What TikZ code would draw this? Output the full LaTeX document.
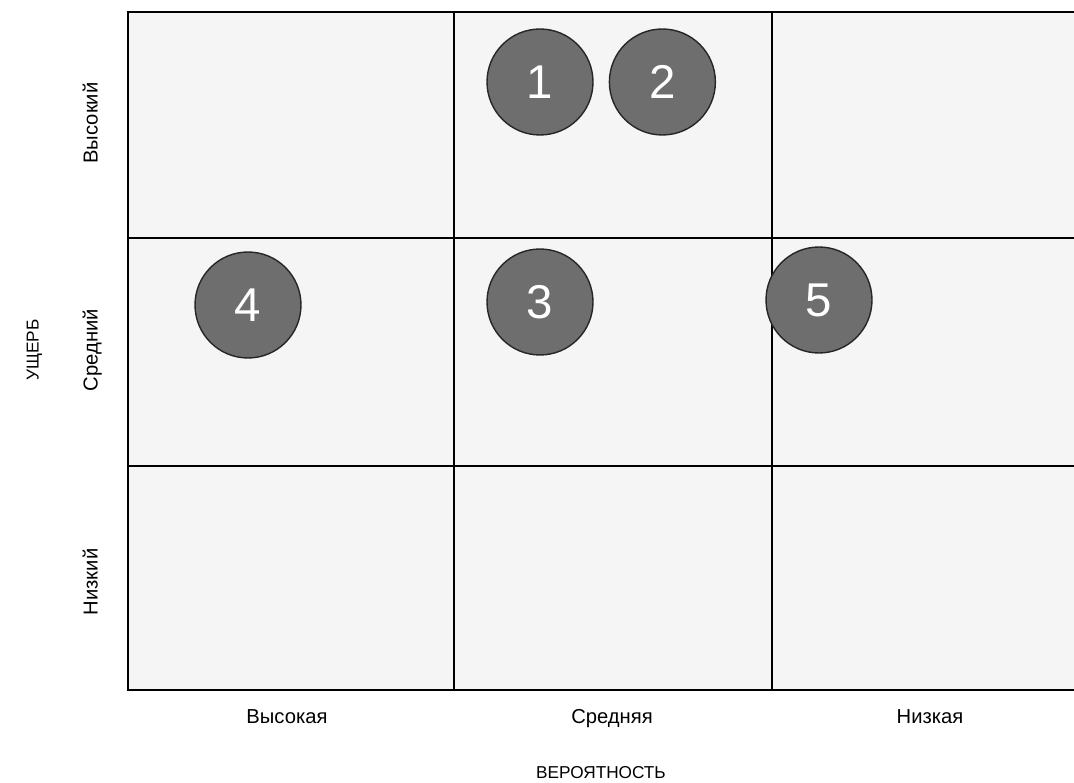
\documentclass[tikz,border=0pt]{standalone}
\usepackage{fontspec}
\setmainfont{Liberation Sans}
\usepackage{tikz}
\usetikzlibrary{positioning,calc}

\begin{document}
\begin{tikzpicture}[
    x=0.02cm, y=-0.02cm,
    risk/.style={circle, draw=black!85, line width=0.8pt, fill=black!57, text=white, font=\fontsize{27}{27}\selectfont, minimum size=2.12cm, inner sep=0pt},
    lvl/.style={font=\fontsize{11.5}{13}\selectfont, text=black, text height=1.6ex, text depth=0.4ex},
    axislbl/.style={font=\fontsize{9.8}{12}\selectfont, text=black, text height=1.6ex, text depth=0.4ex},
    cell/.style={fill=gray!8, draw=none}
]
\useasboundingbox (0,0) rectangle (1074,783);
% cells
\fill[cell] (128,12) rectangle (1074,690);
% grid
\draw[line width=0.7pt] (128,238) -- (1074,238);
\draw[line width=0.7pt] (128,466) -- (1074,466);
\draw[line width=0.7pt] (454,12) -- (454,690);
\draw[line width=0.7pt] (772,12) -- (772,690);
\draw[line width=1.1pt] (1074,12) -- (128,12) -- (128,690) -- (1074,690);

% risks
\node[risk] (r1) at (540,82) {1};
\node[risk, right=0.3cm of r1] (r2) {2};
\node[risk] (r3) at (540,302) {3};
\node[risk] (r4) at (248,305) {4};
\node[risk] (r5) at (819,300) {5};

% damage levels
\node[lvl, rotate=90] (dHigh) at (92,123) {Высокий};
\node[lvl, rotate=90] (dMid) at (92,350) {Средний};
\node[lvl, rotate=90] (dLow) at (92,582) {Низкий};
\node[axislbl, rotate=90] (dmg) at (33,350) {УЩЕРБ};

% probability levels
\node[lvl] (pHigh) at (287,718) {Высокая};
\node[lvl] (pMid) at (612,718) {Средняя};
\node[lvl] (pLow) at (930,718) {Низкая};
\node[axislbl] (prob) at (601,773) {ВЕРОЯТНОСТЬ};
\end{tikzpicture}
\end{document}
